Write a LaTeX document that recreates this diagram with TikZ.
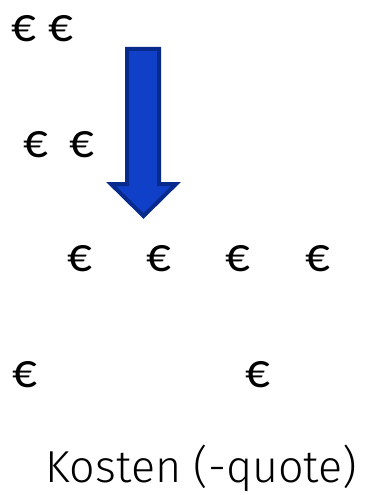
\documentclass[tikz,border=0pt]{standalone}
\usepackage{fontspec}
\setmainfont{Carlito}
\newfontfamily\labelfont{Fira Sans Light}
\definecolor{arrowfill}{RGB}{16,64,200}
\definecolor{arrowline}{RGB}{8,42,140}
\begin{document}
\begin{tikzpicture}[x=1pt,y=-1pt,
  euro/.style={anchor=base,inner sep=0pt,font=\fontsize{49}{49}\selectfont},
  caption/.style={anchor=base,inner sep=0pt,font=\labelfont\fontsize{44.8}{44.8}\selectfont}]
\useasboundingbox (0,0) rectangle (364,495);
\node[euro] (e11) at (24,42) {€};
\node[euro] (e12) at (60.5,42) {€};
\node[euro] (e21) at (35.5,157) {€};
\node[euro] (e22) at (82,157) {€};
\node[euro] (e31) at (80,271) {€};
\node[euro] (e32) at (159,271) {€};
\node[euro] (e33) at (238,271) {€};
\node[euro] (e34) at (318,271) {€};
\node[euro] (e41) at (25,387) {€};
\node[euro] (e42) at (258,387) {€};
\node[caption] (cap) at (201.5,482) {Kosten (-quote)};
\draw[line width=4pt,draw=arrowline,fill=arrowfill,line join=miter]
  (127,49) -- (159,49) -- (159,184) -- (176,184) -- (143.5,216) -- (111,184) -- (127,184) -- cycle;
\end{tikzpicture}
\end{document}
